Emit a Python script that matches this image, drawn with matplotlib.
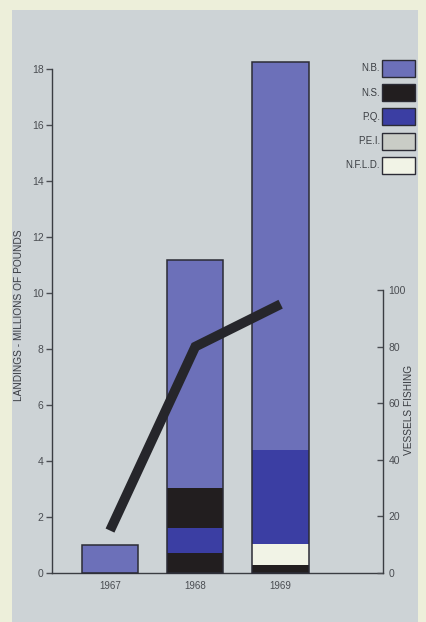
import matplotlib
matplotlib.use("Agg")
import matplotlib.pyplot as plt
from matplotlib.patches import Patch, Rectangle
import numpy as np

plt.rcParams['font.family'] = ['Liberation Sans', 'DejaVu Sans']

years = ['1967', '1968', '1969']
# stacked landings, millions of pounds (bottom to top)
ns_low = [0.0, 0.7, 0.3]
nfld = [0.0, 0.0, 0.75]
pq = [0.0, 0.9, 3.35]
ns_high = [0.0, 1.45, 0.0]
nb = [1.0, 8.15, 13.85]
vessels = [15, 80, 95]

legend_labels = ['N.B.', 'N.S.', 'P.Q.', 'P.E.I.', 'N.F.L.D.']

c_nb = '#6c70b9'
c_ns = '#221e1f'
c_pq = '#3b3ea3'
c_pei = '#c9ccc6'
c_nfld = '#f1f3e6'
edge = '#2b2b35'
tick_col = '#4a4d52'

fig = plt.figure(figsize=(4.27, 6.22), dpi=100, facecolor='#edefda')
fig.patches.append(Rectangle((12 / 427, 0), (418 - 12) / 427, (622 - 10) / 622,
                             transform=fig.transFigure, facecolor='#cdd3d6',
                             edgecolor='none', zorder=-10))

ax = fig.add_axes([52 / 427, 49 / 622, 331 / 427, 515 / 622])
ax.set_facecolor('none')

x = np.arange(len(years))
w = 0.66
bottom = np.zeros(len(years))
for vals, col in [(ns_low, c_ns), (nfld, c_nfld), (pq, c_pq), (ns_high, c_ns), (nb, c_nb)]:
    vals = np.array(vals)
    ax.bar(x, vals, w, bottom=bottom, color=col, edgecolor='none', zorder=2, clip_on=False)
    bottom += vals
# outline of each full bar
ax.bar(x, bottom, w, color='none', edgecolor=edge, linewidth=1.1, zorder=3, clip_on=False)

ax.set_xlim(-0.68, 3.2)
ax.set_ylim(0, 18.4)
ax.set_xticks(x)
ax.set_xticklabels(years)
ax.set_yticks(range(0, 19, 2))
ax.spines['top'].set_visible(False)
ax.spines['right'].set_visible(False)
ax.spines['left'].set_bounds(0, 18)
for s in ['left', 'bottom']:
    ax.spines[s].set_color('#3a3d42')
    ax.spines[s].set_linewidth(1.0)
ax.tick_params(axis='x', length=0, pad=6, labelsize=7, colors=tick_col)
ax.tick_params(axis='y', direction='out', length=4, width=1, pad=2, labelsize=7.5,
               colors=tick_col)
ax.set_ylabel('LANDINGS - MILLIONS OF POUNDS', fontsize=7.3, color='#3a3d42')
ax.yaxis.set_label_coords(-0.085, 0.5)

ax2 = ax.twinx()
ax2.set_ylim(0, 182)
ax2.plot(x, vessels, color='#26262b', linewidth=7, solid_capstyle='butt',
         solid_joinstyle='miter', zorder=5)
ax2.set_yticks(range(0, 101, 20))
for s in ['top', 'left', 'bottom']:
    ax2.spines[s].set_visible(False)
ax2.spines['right'].set_bounds(0, 100)
ax2.spines['right'].set_color('#3a3d42')
ax2.spines['right'].set_linewidth(1.0)
ax2.tick_params(axis='y', direction='in', length=4, width=1, pad=4, labelsize=7.5,
                colors=tick_col)
ax2.set_ylabel('VESSELS FISHING', fontsize=7.3, color='#3a3d42')
ax2.yaxis.set_label_coords(1.062, 0.317)

handles = [Patch(facecolor=c, edgecolor=edge, linewidth=1.0)
           for c in [c_nb, c_ns, c_pq, c_pei, c_nfld]]
leg = ax.legend(handles, legend_labels, loc='upper right', markerfirst=False,
                bbox_to_anchor=(415 / 427, (622 - 60) / 622),
                bbox_transform=fig.transFigure, frameon=False, fontsize=7,
                handlelength=3.4, handleheight=2.3, labelspacing=0.75,
                handletextpad=0.2, borderaxespad=0, borderpad=0)
for t in leg.get_texts():
    t.set_color('#3a3d42')

fig.savefig('out.png', dpi=100, facecolor=fig.get_facecolor())
